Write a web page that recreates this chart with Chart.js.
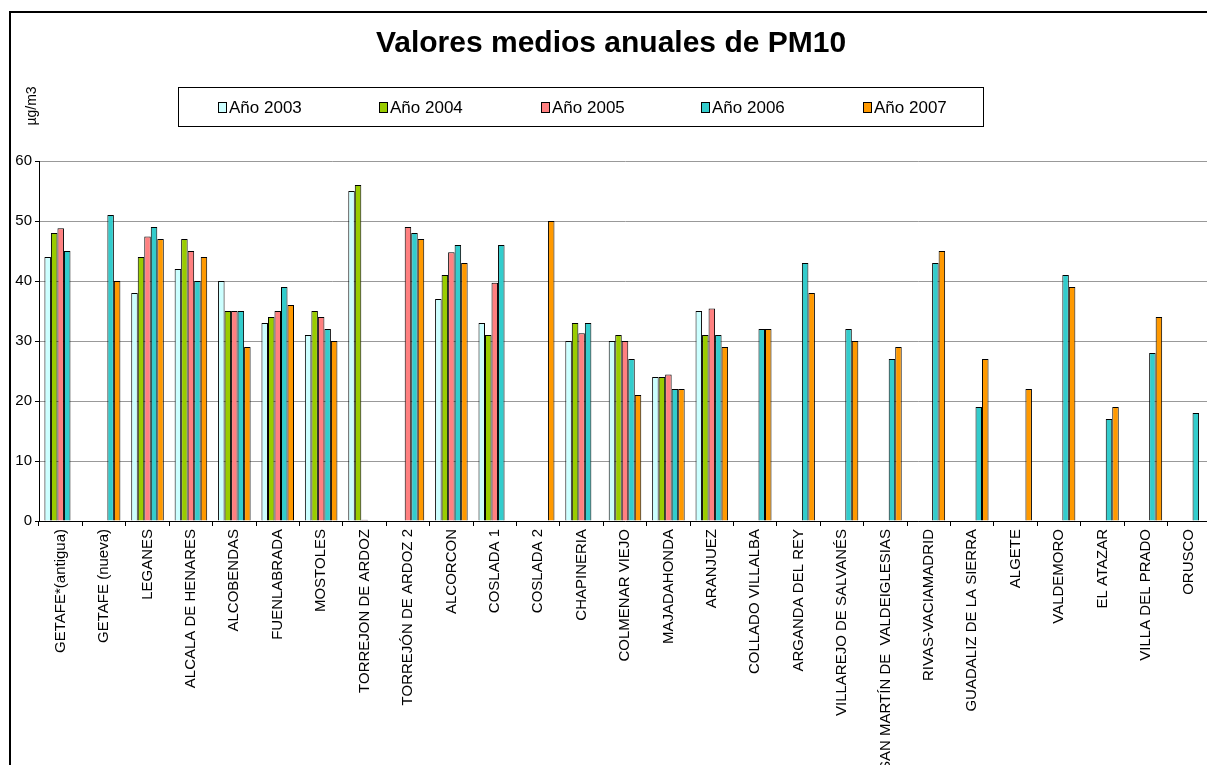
<!DOCTYPE html>
<html>
<head>
<meta charset="utf-8">
<script src="https://cdn.jsdelivr.net/npm/chart.js@4/dist/chart.umd.min.js"></script>
<style>
  html, body { margin: 0; padding: 0; background: #fff; overflow: hidden; width: 1207px; height: 765px; }
  #frame { position: absolute; left: 9px; top: 11px; width: 1220px; height: 800px; border: 2px solid #000; background: #fff; }
  #c { position: absolute; left: 0; top: 0; }
</style>
</head>
<body>
<div id="frame"><canvas id="c" width="1220" height="800"></canvas></div>
<script>
const categories = ["GETAFE*(antigua)","GETAFE (nueva)","LEGANES","ALCALA DE HENARES","ALCOBENDAS","FUENLABRADA","MOSTOLES","TORREJON DE ARDOZ","TORREJÓN DE ARDOZ 2","ALCORCON","COSLADA 1","COSLADA 2","CHAPINERIA","COLMENAR VIEJO","MAJADAHONDA","ARANJUEZ","COLLADO VILLALBA","ARGANDA DEL REY","VILLAREJO DE SALVANÉS","SAN MARTÍN DE  VALDEIGLESIAS","RIVAS-VACIAMADRID","GUADALIZ DE LA SIERRA","ALGETE","VALDEMORO","EL ATAZAR","VILLA DEL PRADO","ORUSCO"];
const seriesNames = ["Año 2003","Año 2004","Año 2005","Año 2006","Año 2007"];
const y2003 = [44,null,38,42,40,33,31,55,null,37,33,null,30,30,24,35,null,null,null,null,null,null,null,null,null,null,null];
const y2004 = [48,null,44,47,35,34,35,56,null,41,31,null,33,31,24,31,null,null,null,null,null,null,null,null,null,null,null];
const y2005 = [48.8,null,47.4,45,35,35,34,0.2,49,44.8,39.7,null,31.3,30,24.4,35.4,null,null,null,null,null,null,null,null,null,null,null];
const y2006 = [45,51,49,40,35,39,32,null,48,46,46,null,33,27,22,31,32,43,32,27,43,19,null,41,17,28,18];
const y2007 = [null,40,47,44,29,36,30,null,47,43,null,50,null,21,22,29,32,38,30,29,45,27,22,39,19,34,null];
const yTicks = [0,10,20,30,40,50,60];
const colors = ["#CCFFFF","#99CC00","#FF8080","#33CCCC","#FF9900"];

const FONT = "Arial, 'Liberation Sans', sans-serif";
const seriesData = [y2003,y2004,y2005,y2006,y2007];

const customDecor = {
  id: 'customDecor',
  afterDraw(chart) {
    const ctx = chart.ctx;
    ctx.save();
    // legend box
    ctx.strokeStyle = '#000';
    ctx.lineWidth = 1;
    ctx.fillStyle = '#fff';
    ctx.fillRect(167.5, 74.5, 805, 39);
    ctx.strokeRect(167.5, 74.5, 805, 39);
    const xs = [207, 368, 530, 690, 852];
    chart.data.datasets.forEach((ds, i) => {
      ctx.fillStyle = ds.backgroundColor;
      ctx.fillRect(xs[i] + 0.5, 89.5, 8, 10);
      ctx.strokeStyle = '#000';
      ctx.strokeRect(xs[i] + 0.5, 89.5, 8, 10);
      ctx.fillStyle = '#000';
      ctx.font = "17px " + FONT;
      ctx.textBaseline = 'middle';
      ctx.textAlign = 'left';
      ctx.fillText(ds.label, xs[i] + 11, 95);
    });
    // y axis unit label
    ctx.translate(21, 93);
    ctx.rotate(-Math.PI / 2);
    ctx.font = "14px " + FONT;
    ctx.fillStyle = '#000';
    ctx.textAlign = 'center';
    ctx.textBaseline = 'middle';
    ctx.fillText("µg/m3", 0, 0);
    ctx.restore();
  }
};

new Chart(document.getElementById('c'), {
  type: 'bar',
  data: {
    labels: categories,
    datasets: seriesNames.map((n, i) => ({
      label: n,
      data: seriesData[i],
      backgroundColor: colors[i],
      borderColor: '#000',
      borderWidth: 1,
      categoryPercentage: 0.75,
      barPercentage: 1.0
    }))
  },
  options: {
    responsive: false,
    animation: false,
    layout: { padding: { left: 0, right: 20, top: 0, bottom: 0 } },
    plugins: {
      legend: { display: false },
      tooltip: { enabled: false },
      title: {
        display: true,
        text: "Valores medios anuales de PM10",
        color: '#000',
        font: { family: FONT, size: 30, weight: 'bold' },
        padding: { top: 13, bottom: 99 }
      }
    },
    scales: {
      x: {
        grid: { display: true, drawOnChartArea: false, offset: true, tickLength: 5, color: '#000', tickColor: '#000' },
        border: { display: true, color: '#000', width: 1 },
        ticks: {
          autoSkip: false, maxRotation: 90, minRotation: 90, color: '#000', padding: 3,
          font: { family: FONT, size: 15 }
        },
        afterFit(scale) { scale.height = 292; }
      },
      y: {
        min: 0, max: 60,
        afterBuildTicks(scale) { scale.ticks = yTicks.map(v => ({ value: v })); },
        grid: { color: '#999', tickColor: '#000', tickLength: 4, lineWidth: 1 },
        border: { display: true, color: '#000', width: 1 },
        ticks: { color: '#000', padding: 3, font: { family: FONT, size: 15 } },
        afterFit(scale) { scale.width = 28; }
      }
    }
  },
  plugins: [customDecor]
});
</script>
</body>
</html>
